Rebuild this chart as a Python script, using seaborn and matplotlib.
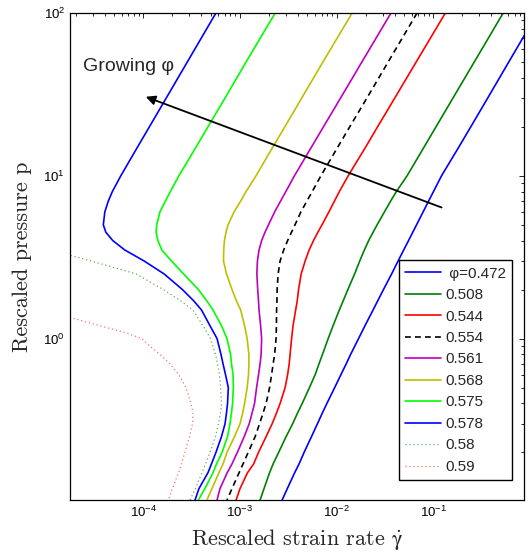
import numpy as np
import pandas as pd
import seaborn as sns
import matplotlib.pyplot as plt

# rescaled pressure grid (shared by the eight flowing curves)
p = [100, 50, 30, 20, 15, 10, 8, 7, 6, 5, 4.5, 4, 3.5, 3, 2.5, 2, 1.7, 1.5, 1.2, 1,
     0.8, 0.7, 0.6, 0.5, 0.4, 0.35, 0.3, 0.25, 0.2, 0.17, 0.15, 0.12, 0.102]

# rescaled strain rate, one list per volume fraction
g_0472 = [1.20, 0.605, 0.366, 0.245, 0.184, 0.122, 0.1007, 8.97e-2, 7.87e-2, 6.73e-2,
          6.15e-2, 5.56e-2, 4.95e-2, 4.34e-2, 3.72e-2, 3.06e-2, 2.66e-2, 2.39e-2, 1.97e-2,
          1.69e-2, 1.40e-2, 1.26e-2, 1.11e-2, 9.57e-3, 7.96e-3, 7.15e-3, 6.35e-3, 5.51e-3,
          4.62e-3, 4.10e-3, 3.69e-3, 3.10e-3, 2.74e-3]
g_0508 = [0.530, 0.266, 0.160, 0.107, 8.04e-2, 5.37e-2, 4.16e-2, 3.63e-2, 3.13e-2, 2.63e-2,
          2.39e-2, 2.15e-2, 1.94e-2, 1.74e-2, 1.54e-2, 1.31e-2, 1.17e-2, 1.07e-2, 9.21e-3,
          8.20e-3, 7.16e-3, 6.59e-3, 6.01e-3, 5.25e-3, 4.42e-3, 3.96e-3, 3.52e-3, 3.01e-3,
          2.52e-3, 2.21e-3, 2.03e-3, 1.78e-3, 1.62e-3]
g_0544 = [0.1337, 6.67e-2, 4.00e-2, 2.66e-2, 2.00e-2, 1.32e-2, 1.07e-2, 9.53e-3, 8.34e-3,
          7.08e-3, 6.41e-3, 5.78e-3, 5.21e-3, 4.74e-3, 4.31e-3, 4.05e-3, 3.92e-3, 3.78e-3,
          3.55e-3, 3.43e-3, 3.31e-3, 3.24e-3, 3.12e-3, 2.94e-3, 2.61e-3, 2.40e-3, 2.16e-3,
          1.87e-3, 1.56e-3, 1.39e-3, 1.20e-3, 1.005e-3, 9.14e-4]
g_0554 = [6.81e-2, 3.42e-2, 2.06e-2, 1.37e-2, 1.03e-2, 6.89e-3, 5.61e-3, 4.94e-3, 4.28e-3,
          3.72e-3, 3.42e-3, 3.12e-3, 2.84e-3, 2.61e-3, 2.49e-3, 2.43e-3, 2.42e-3, 2.40e-3,
          2.39e-3, 2.37e-3, 2.29e-3, 2.21e-3, 2.13e-3, 2.03e-3, 1.87e-3, 1.74e-3, 1.60e-3,
          1.44e-3, 1.22e-3, 1.08e-3, 9.82e-4, 8.30e-4, 7.36e-4]
g_0561 = [3.66e-2, 1.83e-2, 1.10e-2, 7.33e-3, 5.50e-3, 3.67e-3, 2.99e-3, 2.64e-3, 2.29e-3,
          1.98e-3, 1.82e-3, 1.68e-3, 1.58e-3, 1.52e-3, 1.50e-3, 1.53e-3, 1.56e-3, 1.58e-3,
          1.64e-3, 1.68e-3, 1.66e-3, 1.62e-3, 1.56e-3, 1.49e-3, 1.42e-3, 1.34e-3, 1.25e-3,
          1.11e-3, 9.42e-4, 8.30e-4, 7.40e-4, 6.24e-4, 5.81e-4]
g_0568 = [1.45e-2, 7.24e-3, 4.36e-3, 2.92e-3, 2.19e-3, 1.47e-3, 1.16e-3, 1.02e-3, 8.71e-4,
          7.55e-4, 7.19e-4, 6.93e-4, 6.81e-4, 6.77e-4, 7.27e-4, 8.30e-4, 9.24e-4, 1.02e-3,
          1.12e-3, 1.19e-3, 1.24e-3, 1.24e-3, 1.23e-3, 1.19e-3, 1.12e-3, 1.07e-3, 1.005e-3,
          8.81e-4, 7.36e-4, 6.70e-4, 6.08e-4, 5.15e-4, 4.57e-4]
g_0575 = [2.32e-3, 1.16e-3, 7.02e-4, 4.68e-4, 3.52e-4, 2.34e-4, 1.91e-4, 1.70e-4, 1.49e-4,
          1.38e-4, 1.36e-4, 1.42e-4, 1.56e-4, 1.96e-4, 2.61e-4, 3.73e-4, 4.57e-4, 5.27e-4,
          6.46e-4, 7.36e-4, 8.02e-4, 8.20e-4, 8.51e-4, 8.57e-4, 8.40e-4, 8.20e-4, 7.91e-4,
          7.46e-4, 6.55e-4, 5.74e-4, 5.27e-4, 4.35e-4, 3.73e-4]
g_0578 = [5.66e-4, 2.86e-4, 1.73e-4, 1.16e-4, 8.73e-5, 5.87e-5, 4.80e-5, 4.36e-5, 4.01e-5,
          3.87e-5, 4.11e-5, 4.85e-5, 6.46e-5, 1.02e-4, 1.64e-4, 2.55e-4, 3.35e-4, 4.01e-4,
          4.91e-4, 5.81e-4, 6.38e-4, 6.70e-4, 7.11e-4, 7.60e-4, 7.46e-4, 7.28e-4, 7.03e-4,
          6.46e-4, 5.66e-4, 5.09e-4, 4.68e-4, 3.78e-4, 3.44e-4]

# the two jammed branches enter from the left edge
p_058 = [4, 3, 2.5, 2, 1.7, 1.5, 1.2, 1, 0.8, 0.7, 0.6, 0.5, 0.4, 0.35, 0.3, 0.25, 0.2,
         0.17, 0.15, 0.12, 0.102]
g_058 = [4.9e-6, 2.87e-5, 8.40e-5, 1.62e-4, 2.46e-4, 3.27e-4, 4.16e-4, 4.97e-4, 5.60e-4,
         5.88e-4, 6.17e-4, 6.31e-4, 6.46e-4, 6.31e-4, 6.01e-4, 5.60e-4, 4.91e-4, 4.42e-4,
         4.05e-4, 3.48e-4, 3.05e-4]
p_059 = [1.5, 1.2, 1.1, 1, 0.9, 0.8, 0.7, 0.6, 0.5, 0.4, 0.35, 0.3, 0.25, 0.2, 0.17, 0.15,
         0.12, 0.102]
g_059 = [9.1e-6, 3.56e-5, 6.16e-5, 9.70e-5, 1.17e-4, 1.49e-4, 1.89e-4, 2.34e-4, 2.77e-4,
         3.12e-4, 3.27e-4, 3.24e-4, 3.01e-4, 2.70e-4, 2.49e-4, 2.32e-4, 2.01e-4, 1.82e-4]

labels = [' φ=0.472', '0.508', '0.544', '0.554', '0.561', '0.568', '0.575', '0.578', '0.58', '0.59']

sns.set_style('white')
plt.rcParams['font.family'] = ['Liberation Sans', 'DejaVu Sans']
plt.rcParams['mathtext.default'] = 'regular'

fig = plt.figure(figsize=(5.32, 5.54), dpi=100)
ax = fig.add_axes([70 / 532, 1 - 500 / 554, 454 / 532, 487 / 554])

curves = [
    (g_0472, p, '#0000FF', '-', 1.2),
    (g_0508, p, '#008000', '-', 1.2),
    (g_0544, p, '#FF0000', '-', 1.2),
    (g_0554, p, 'k', (0, (3.5, 2.5)), 1.2),
    (g_0561, p, '#BF00BF', '-', 1.2),
    (g_0568, p, '#BFBF00', '-', 1.2),
    (g_0575, p, '#00FF00', '-', 1.2),
    (g_0578, p, '#0000FF', '-', 1.2),
    (g_058, p_058, '#5DAE5D', (0, (1, 2.2)), 0.9),
    (g_059, p_059, '#FF6E6E', (0, (1, 2.2)), 0.9),
]

for (g, pp, c, ls, lw), lab in zip(curves, labels):
    sns.lineplot(x=g, y=pp, sort=False, estimator=None, color=c, linestyle=ls,
                 linewidth=lw, label=lab, ax=ax)

ax.set(xscale='log', yscale='log')
ax.set_xlim(1.75e-5, 0.87)
ax.set_ylim(0.102, 100)

for s in ax.spines.values():
    s.set_color('k')
    s.set_linewidth(0.9)
ax.tick_params(which='both', direction='in', top=True, right=True, colors='k',
               labelsize=9.5, width=0.6)
ax.tick_params(which='major', length=3.8)
ax.tick_params(which='minor', length=2.2)

ax.set_xlabel(r'Rescaled strain rate $\dot{\gamma}$', fontfamily='cmr10',
              math_fontfamily='cm', fontsize=16, labelpad=5)
ax.set_ylabel('Rescaled pressure p', fontfamily='cmr10', fontsize=16, labelpad=8)

# arrow and annotation
ax.annotate('', xy=(1.0e-4, 31), xytext=(0.13, 6.3),
            arrowprops=dict(arrowstyle='-|>', color='k', lw=1.3, mutation_scale=14))
ax.text(2.4e-5, 44, 'Growing φ', fontsize=14, va='baseline', ha='left')

leg = ax.legend(loc='lower right', bbox_to_anchor=(0.974, 0.041), borderaxespad=0,
                fontsize=11, frameon=True, fancybox=False, edgecolor='k', framealpha=1,
                handlelength=2.3, handletextpad=0.3, labelspacing=0.49, borderpad=0.4)
leg.get_frame().set_linewidth(1.0)

fig.savefig('out.png', dpi=100)
